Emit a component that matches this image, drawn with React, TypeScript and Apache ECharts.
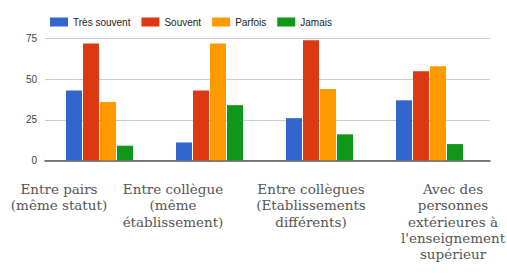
import React, { useEffect, useRef } from "react";
import * as echarts from "echarts";

const categories = [
  "Entre pairs\n(même statut)",
  "Entre collègues\n(même\nétablissement)",
  "Entre collègues\n(Etablissements\ndifférents)",
  "Avec des\npersonnes\nextérieures à\nl'enseignement\nsupérieur",
];
const seriesNames = ["Très souvent", "Souvent", "Parfois", "Jamais"];
const tresSouvent = [43, 11, 26, 37];
const souvent = [72, 43, 74, 55];
const parfois = [36, 72, 44, 58];
const jamais = [9, 34, 16, 10];
const yTicks = [0, 25, 50, 75];
const colors = ["#3366cc", "#dc3912", "#ff9900", "#109618"];

// label placement (page layout of the text boxes)
const labelCenters = [59, 173, 311, 453];

export default function App() {
  const ref = useRef<HTMLDivElement>(null);
  useEffect(() => {
    document.body.style.margin = "0";
    if (!ref.current) return;
    const chart = echarts.init(ref.current, null, { renderer: "svg" });
    const values = [tresSouvent, souvent, parfois, jamais];
    const top = 38.7;
    const bottom = 112.7;
    chart.setOption({
      animation: false,
      color: colors,
      legend: {
        left: 45,
        top: 12,
        itemWidth: 18,
        itemHeight: 9,
        itemGap: 11,
        icon: "rect",
        textStyle: { fontFamily: "Liberation Sans, Arial", fontSize: 10, color: "#222" },
        data: seriesNames,
      },
      grid: [
        { left: 45, right: 17, top, bottom },
        { left: 44.5, right: 22.5, top, bottom },
      ],
      xAxis: [
        {
          type: "category",
          gridIndex: 0,
          data: categories,
          axisLine: { lineStyle: { color: "#555", width: 1.5 } },
          axisTick: { show: false },
          axisLabel: { show: false },
        },
        {
          type: "category",
          gridIndex: 1,
          data: categories,
          axisLine: { show: false },
          axisTick: { show: false },
          axisLabel: { show: false },
        },
      ],
      yAxis: [
        {
          type: "value",
          gridIndex: 0,
          min: yTicks[0],
          max: yTicks[yTicks.length - 1],
          interval: 25,
          axisLine: { show: false },
          axisTick: { show: false },
          axisLabel: {
            fontFamily: "Liberation Sans, Arial",
            fontSize: 10,
            color: "#444",
            margin: 8,
          },
          splitLine: { lineStyle: { color: "#cccccc", width: 1 } },
        },
        {
          type: "value",
          gridIndex: 1,
          min: yTicks[0],
          max: yTicks[yTicks.length - 1],
          interval: 25,
          show: false,
          splitLine: { show: false },
        },
      ],
      series: seriesNames.map((name, i) => ({
        name,
        type: "bar",
        xAxisIndex: 1,
        yAxisIndex: 1,
        barWidth: 16,
        barGap: "6.25%",
        data: values[i],
        itemStyle: { color: colors[i] },
      })),
      graphic: categories.map((c, i) => ({
        type: "text",
        x: labelCenters[i],
        y: 181,
        style: {
          text: c,
          textAlign: "center",
          textVerticalAlign: "top",
          fontFamily: "DejaVu Serif, serif",
          fontSize: 13.5,
          lineHeight: 16.3,
          fill: "#555",
          ...(i === 1 ? { width: 105, overflow: "truncate", ellipsis: "" } : {}),
        },
      })),
    });
    return () => chart.dispose();
  }, []);
  return <div ref={ref} style={{ width: 507, height: 273 }} />;
}
